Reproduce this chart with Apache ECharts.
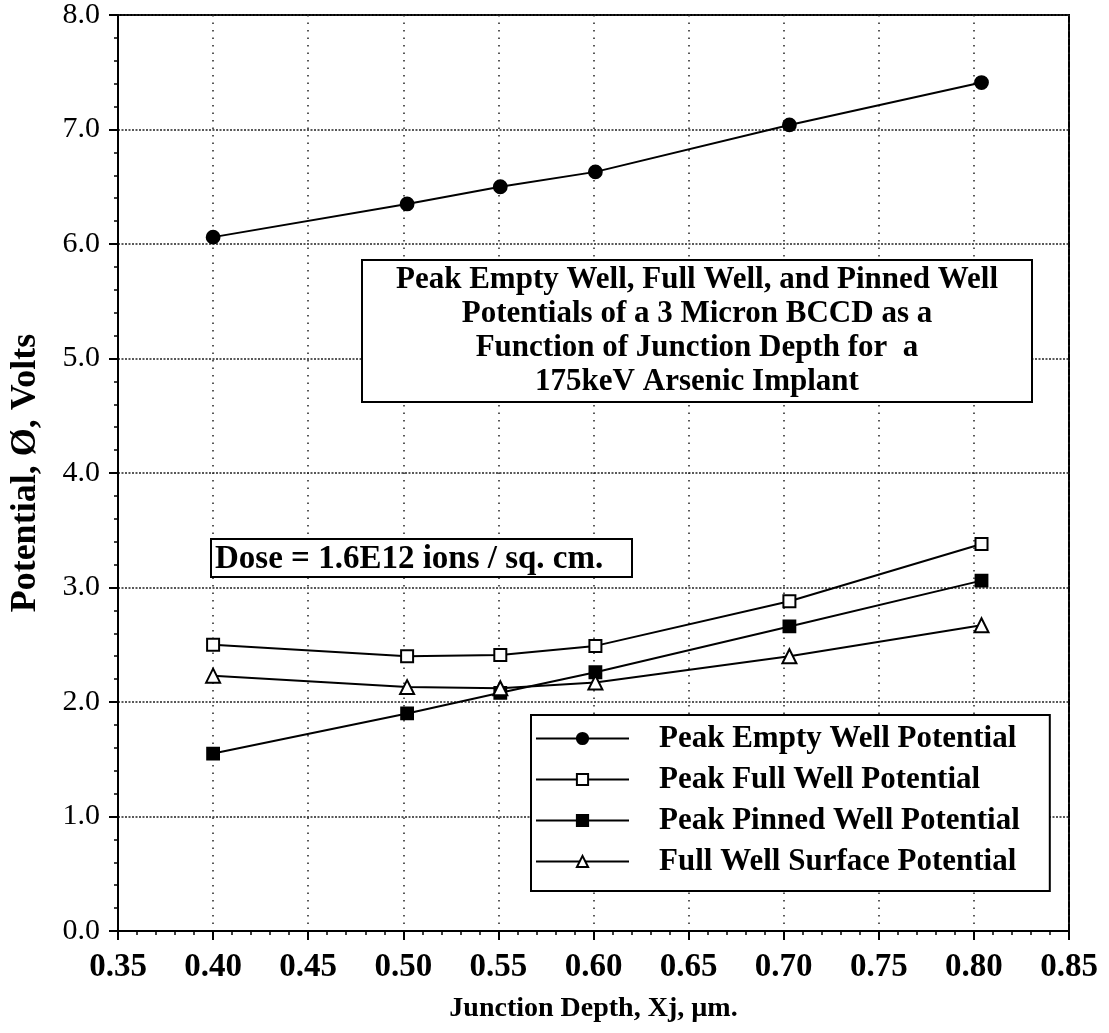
<!DOCTYPE html>
<html>
<head>
<meta charset="utf-8">
<script src="https://cdn.jsdelivr.net/npm/echarts@6/dist/echarts.min.js"></script>
<style>
html,body{margin:0;padding:0;background:#fff;}
#chart{width:1109px;height:1033px;}
</style>
</head>
<body>
<div id="chart"></div>
<script>
// ---- data ----
const depth = [0.400, 0.502, 0.551, 0.601, 0.703, 0.804];           // Junction depth, Xj (µm)
const emptyWell = [6.06, 6.35, 6.50, 6.63, 7.04, 7.41];             // Peak Empty Well Potential
const fullWell = [2.50, 2.40, 2.41, 2.49, 2.88, 3.38];              // Peak Full Well Potential
const pinnedWell = [1.55, 1.90, 2.08, 2.26, 2.66, 3.06];            // Peak Pinned Well Potential
const surfaceWell = [2.23, 2.13, 2.12, 2.17, 2.40, 2.67];           // Full Well Surface Potential
const seriesNames = ['Peak Empty Well Potential', 'Peak Full Well Potential',
                     'Peak Pinned Well Potential', 'Full Well Surface Potential'];
const titleLines = ['Peak Empty Well, Full Well, and Pinned Well',
                    'Potentials of a 3 Micron BCCD as a',
                    'Function of Junction Depth for  a',
                    '175keV Arsenic Implant'];
const doseText = 'Dose = 1.6E12 ions / sq. cm.';
const xName = 'Junction Depth, Xj, µm.';
const yName = 'Potential, Ø, Volts';

const FONT = '"Liberation Serif", "Times New Roman", serif';
const pairs = arr => depth.map((x, i) => [x, arr[i]]);

const chart = echarts.init(document.getElementById('chart'), null, {renderer: 'canvas'});

function mkSeries(name, data, symbol, size) {
  return {
    name: name, type: 'line', data: pairs(data),
    symbol: symbol, symbolSize: size,
    lineStyle: {color: '#000', width: 2},
    itemStyle: {color: '#000', borderColor: '#000', borderWidth: 1.8},
    emphasis: {disabled: true},
    animation: false, z: 5
  };
}

const option = {
  backgroundColor: '#fff',
  animation: false,
  grid: {left: 117, top: 14, right: 40, bottom: 102, show: true, borderColor: '#000', borderWidth: 2, backgroundColor: 'transparent'},
  xAxis: {
    type: 'value', min: 0.35, max: 0.85, interval: 0.05,
    name: xName, nameLocation: 'middle', nameGap: 64,
    nameTextStyle: {fontFamily: FONT, fontWeight: 'bold', fontSize: 28, color: '#000'},
    axisLine: {show: true, onZero: false, lineStyle: {color: '#000', width: 2}},
    axisTick: {show: true, inside: false, length: 9, lineStyle: {color: '#000', width: 2}},
    minorTick: {show: true, splitNumber: 5, length: 4, lineStyle: {color: '#000', width: 1.5}},
    axisLabel: {fontFamily: FONT, fontWeight: 'bold', fontSize: 33, color: '#000', margin: 20,
                formatter: v => v.toFixed(2)},
    splitLine: {show: true, lineStyle: {color: '#222', width: 1.5, type: [1.5, 6]}}
  },
  yAxis: {
    type: 'value', min: 0, max: 8, interval: 1,
    name: yName, nameLocation: 'middle', nameGap: 74, nameRotate: 90,
    nameTextStyle: {fontFamily: FONT, fontWeight: 'bold', fontSize: 36, color: '#000'},
    axisLine: {show: true, onZero: false, lineStyle: {color: '#000', width: 2}},
    axisTick: {show: true, inside: false, length: 9, lineStyle: {color: '#000', width: 2}},
    minorTick: {show: true, splitNumber: 5, length: 4, lineStyle: {color: '#000', width: 1.5}},
    axisLabel: {fontFamily: FONT, fontSize: 30, color: '#000', margin: 18,
                formatter: v => v.toFixed(1)},
    splitLine: {show: true, lineStyle: {color: '#222', width: 1.5, type: [2, 1.5]}}
  },
  legend: {
    show: true, orient: 'vertical', left: 531, top: 715,
    padding: [8, 30, 14, 4], itemGap: 10,
    itemWidth: 93, itemHeight: 14,
    backgroundColor: '#fff', borderColor: '#000', borderWidth: 2,
    textStyle: {fontFamily: FONT, fontWeight: 'bold', fontSize: 31, color: '#000', padding: [0, 0, 0, 25], lineHeight: 30},
    data: seriesNames
  },
  graphic: [
    {type: 'rect', z: 20, shape: {x: 362, y: 260, width: 670, height: 142},
     style: {fill: '#fff', stroke: '#000', lineWidth: 2}},
    {type: 'text', z: 21, x: 697, y: 263,
     style: {text: titleLines.join('\n'), font: 'bold 31px ' + FONT, fill: '#000', align: 'center', verticalAlign: 'top', lineHeight: 34}},
    {type: 'rect', z: 20, shape: {x: 211, y: 539, width: 421, height: 38},
     style: {fill: '#fff', stroke: '#000', lineWidth: 2}},
    {type: 'text', z: 21, x: 215, y: 559,
     style: {text: doseText, font: 'bold 33px ' + FONT, fill: '#000', align: 'left', verticalAlign: 'middle'}}
  ],
  series: [
    mkSeries(seriesNames[0], emptyWell, 'circle', 13),
    mkSeries(seriesNames[1], fullWell, 'emptyRect', 12),
    mkSeries(seriesNames[2], pinnedWell, 'rect', 12),
    mkSeries(seriesNames[3], surfaceWell, 'emptyTriangle', 14)
  ]
};
chart.setOption(option);
</script>
</body>
</html>
